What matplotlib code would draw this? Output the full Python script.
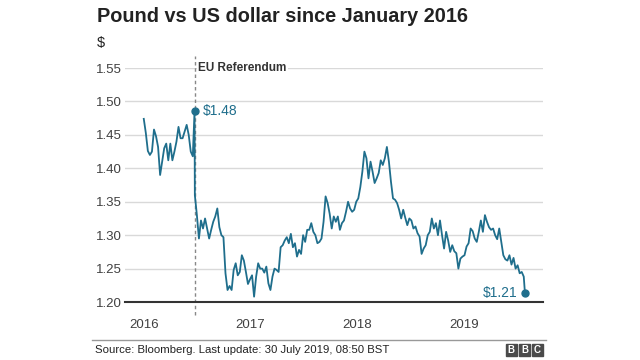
import pandas as pd
import matplotlib.pyplot as plt
import matplotlib

matplotlib.rcParams['font.family'] = ['Liberation Sans', 'DejaVu Sans']

# weekly closes (Fridays) from 1 Jan 2016
weekly_start = '2016-01-01'
weekly_values = [
    1.474, 1.453, 1.426, 1.420, 1.425, 1.458, 1.448, 1.432, 1.390, 1.410,
    1.430, 1.437, 1.412, 1.437, 1.412, 1.425, 1.440, 1.462, 1.445, 1.445,
    1.455, 1.465, 1.450, 1.425, 1.418, 1.360, 1.330, 1.295, 1.322, 1.310,
    1.325, 1.310, 1.295, 1.308, 1.320, 1.328, 1.340, 1.312, 1.300, 1.297,
    1.243, 1.218, 1.224, 1.218, 1.248, 1.258, 1.240, 1.245, 1.270, 1.262,
    1.245, 1.227, 1.234,
    # 2017
    1.240, 1.208, 1.238, 1.258, 1.250, 1.250, 1.244, 1.253, 1.228, 1.218,
    1.238, 1.250, 1.248, 1.245, 1.282, 1.285, 1.292, 1.297, 1.288, 1.302,
    1.282, 1.288, 1.268, 1.278, 1.272, 1.300, 1.290, 1.308, 1.308, 1.318,
    1.305, 1.300, 1.288, 1.290, 1.295, 1.320, 1.358, 1.348, 1.332, 1.310,
    1.328, 1.320, 1.328, 1.308, 1.318, 1.322, 1.335, 1.350, 1.340, 1.335,
    1.338, 1.350,
    # 2018
    1.355, 1.372, 1.395, 1.425, 1.415, 1.385, 1.410, 1.395, 1.378, 1.385,
    1.393, 1.412, 1.405, 1.415, 1.432, 1.410, 1.380, 1.355, 1.353, 1.348,
    1.338, 1.325, 1.338, 1.326, 1.315, 1.325, 1.322, 1.310, 1.313, 1.303,
    1.298, 1.272, 1.280, 1.285, 1.300, 1.305, 1.325, 1.310, 1.318, 1.300,
    1.322, 1.300, 1.280, 1.305, 1.292, 1.275, 1.285, 1.276, 1.273, 1.250,
    1.265, 1.268,
    # 2019
    1.270, 1.283, 1.288, 1.310, 1.306, 1.295, 1.290, 1.305, 1.322, 1.305,
    1.330, 1.320, 1.312, 1.308, 1.310, 1.300, 1.294, 1.310, 1.290, 1.270,
    1.264, 1.262, 1.270, 1.256, 1.266, 1.250, 1.255, 1.243, 1.245, 1.238,
]

# extra days around the referendum and the last update
extra_dates = ['2016-06-21', '2016-06-23', '2019-07-30']
extra_values = [1.465, 1.486, 1.214]

referendum_date = '2016-06-23'
last_date = '2019-07-30'
point_labels = ['$1.48', '$1.21']
year_ticks = ['2016', '2017', '2018', '2019']
y_ticks = [1.20, 1.25, 1.30, 1.35, 1.40, 1.45, 1.50, 1.55]

dates = pd.date_range(weekly_start, periods=len(weekly_values), freq='W-FRI')
s = pd.concat([pd.Series(weekly_values, index=dates),
               pd.Series(extra_values, index=pd.to_datetime(extra_dates))]).sort_index()

line_col = '#1f6e8c'
text_col = '#222222'

fig = plt.figure(figsize=(6.4, 3.6), dpi=100)
ax = fig.add_axes([0.195, 0.161, 0.653, 0.650])

ax.plot(s.index, s.values, color=line_col, lw=1.3, zorder=3)

ref = pd.Timestamp(referendum_date)
last = pd.Timestamp(last_date)
ax.plot([ref], [s[ref]], 'o', color=line_col, ms=5, zorder=4, clip_on=False)
ax.plot([last], [s[last]], 'o', color=line_col, ms=5, zorder=4, clip_on=False)
ax.text(ref + pd.Timedelta(days=30), s[ref], point_labels[0], color=line_col,
        fontsize=10, va='center', ha='left')
ax.text(last - pd.Timedelta(days=27), s[last], point_labels[1], color=line_col,
        fontsize=10, va='center', ha='right')

ax.axvline(ref, ymin=-0.055, ymax=1.05, color='#888888', ls=(0, (2.5, 2)), lw=1,
           clip_on=False, zorder=2)
ax.text(ref + pd.Timedelta(days=12), 1.55, 'EU Referendum', fontsize=8.5,
        fontweight='bold', color='#333333', va='center', ha='left',
        bbox=dict(facecolor='white', edgecolor='none', pad=1))

ax.set_ylim(1.20, 1.55)
ax.set_xlim(pd.Timestamp('2015-10-28'), pd.Timestamp('2019-09-29'))
ax.set_yticks(y_ticks)
ax.set_yticklabels([f'{v:.2f}' for v in y_ticks])
ax.set_xticks([pd.Timestamp(y + '-01-01') for y in year_ticks])
ax.set_xticklabels(year_ticks)
ax.grid(axis='y', color='#d9d9d9', lw=1)
ax.set_axisbelow(True)
for side in ['top', 'right', 'left']:
    ax.spines[side].set_visible(False)
ax.spines['bottom'].set_color('#333333')
ax.spines['bottom'].set_linewidth(1.5)
ax.tick_params(axis='both', length=0, labelsize=9.5, colors='#404040')
ax.tick_params(axis='x', pad=12)
ax.tick_params(axis='y', pad=2)

fig.text(0.152, 0.955, 'Pound vs US dollar since January 2016', fontsize=14.3,
         fontweight='bold', color=text_col, va='center')
fig.text(0.152, 0.88, '$', fontsize=10.5, color=text_col, va='center')

fig.add_artist(plt.Line2D([0.144, 0.853], [0.055, 0.055], color='#999999', lw=1))
fig.text(0.148, 0.028, 'Source: Bloomberg. Last update: 30 July 2019, 08:50 BST',
         fontsize=8.2, color=text_col, va='center')
for i, letter in enumerate('BBC'):
    x0 = 0.790 + i * 0.0205
    fig.add_artist(plt.Rectangle((x0, 0.012), 0.018, 0.032, color='#4a4a4a'))
    fig.text(x0 + 0.009, 0.028, letter, fontsize=7, fontweight='bold', color='white',
             ha='center', va='center')

fig.savefig('out.png', dpi=100)
